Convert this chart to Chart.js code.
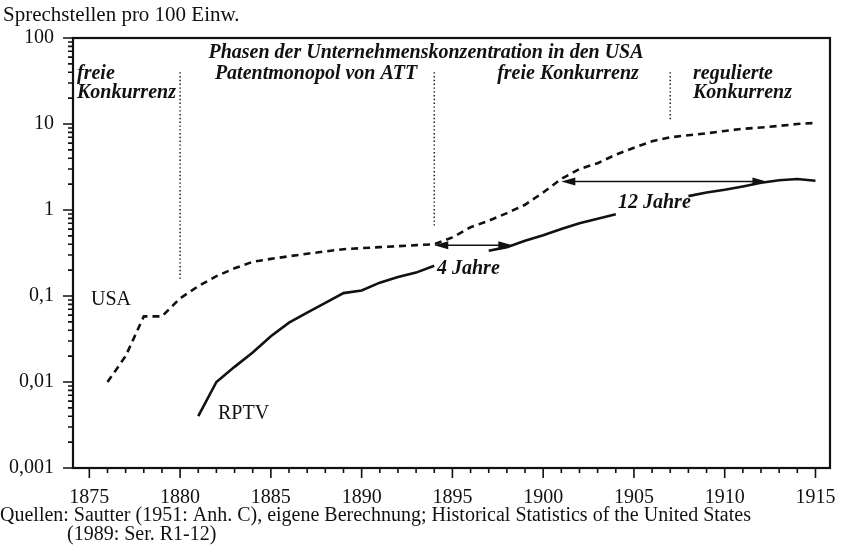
<!DOCTYPE html>
<html>
<head>
<meta charset="utf-8">
<script src="https://cdn.jsdelivr.net/npm/chart.js@4.4.1/dist/chart.umd.min.js"></script>
<style>
  html, body { margin: 0; padding: 0; background: #fff; }
  #wrap { position: relative; width: 846px; height: 552px; }
</style>
</head>
<body>
<div id="wrap"><canvas id="phoneChart" width="846" height="552"></canvas></div>
<script>
// Sprechstellen pro 100 Einwohner, 1876-1915
const years = [1876, 1877, 1878, 1879, 1880, 1881, 1882, 1883, 1884, 1885,
               1886, 1887, 1888, 1889, 1890, 1891, 1892, 1893, 1894, 1895,
               1896, 1897, 1898, 1899, 1900, 1901, 1902, 1903, 1904, 1905,
               1906, 1907, 1908, 1909, 1910, 1911, 1912, 1913, 1914, 1915];
const usa = [0.01, 0.02, 0.058, 0.058, 0.094, 0.13, 0.17, 0.21, 0.25, 0.27,
             0.29, 0.31, 0.33, 0.35, 0.36, 0.37, 0.38, 0.39, 0.40, 0.48,
             0.63, 0.75, 0.92, 1.15, 1.6, 2.3, 3.0, 3.5, 4.4, 5.3,
             6.3, 7.0, 7.4, 7.8, 8.3, 8.8, 9.1, 9.5, 10.0, 10.3];
const rptv = [null, null, null, null, null, 0.004, 0.01, 0.015, 0.022, 0.034,
              0.049, 0.064, 0.083, 0.108, 0.116, 0.143, 0.166, 0.187, 0.225, 0.26,
              0.30, 0.335, 0.37, 0.44, 0.51, 0.6, 0.7, 0.79, 0.89, 1.0,
              1.15, 1.3, 1.45, 1.6, 1.72, 1.88, 2.07, 2.22, 2.29, 2.19];
const xTicks = [1875, 1880, 1885, 1890, 1895, 1900, 1905, 1910, 1915];
const yTicks = [0.001, 0.01, 0.1, 1, 10, 100];
const yTickLabels = ['0,001', '0,01', '0,1', '1', '10', '100'];

// phase borders (year, bottom value) and the two lag arrows
const phaseLines = [[1880, 0.15], [1894, 0.65], [1907, 11]];
const phaseTop = 40;
const lagArrows = [
  { from: 1894, to: 1898.3, at: 0.39 },
  { from: 1901.0, to: 1912.3, at: 2.14 }
];
// RPTV line is broken where the labels sit
const rptvGaps = [[1894, 1897], [1904, 1908]];

const serif = "'Liberation Serif', 'Times New Roman', serif";
const notes = [
  { t: 'Phasen der Unternehmenskonzentration in den USA', x: 426, y: 58, a: 'center', it: true },
  { t: 'freie', x: 77, y: 79, a: 'left', it: true },
  { t: 'Konkurrenz', x: 77, y: 98, a: 'left', it: true },
  { t: 'Patentmonopol von ATT', x: 316, y: 79, a: 'center', it: true },
  { t: 'freie Konkurrenz', x: 568, y: 79, a: 'center', it: true },
  { t: 'regulierte', x: 693, y: 79, a: 'left', it: true },
  { t: 'Konkurrenz', x: 693, y: 98, a: 'left', it: true },
  { t: '4 Jahre', x: 437, y: 274, a: 'left', it: true },
  { t: '12 Jahre', x: 618, y: 208, a: 'left', it: true },
  { t: 'USA', x: 91, y: 305, a: 'left', size: 20 },
  { t: 'RPTV', x: 218, y: 419, a: 'left', size: 20 },
  { t: 'Sprechstellen pro 100 Einw.', x: 3, y: 21, a: 'left', size: 21 },
  { t: 'Quellen: Sautter (1951: Anh. C), eigene Berechnung; Historical Statistics of the United States', x: 0, y: 521, a: 'left', size: 20 },
  { t: '(1989: Ser. R1-12)', x: 67, y: 540, a: 'left', size: 20 }
];

const decor = {
  id: 'decor',
  afterDraw(chart) {
    const { ctx, chartArea: ca, scales: { x, y } } = chart;
    ctx.save();
    ctx.strokeStyle = '#111';
    ctx.fillStyle = '#111';

    // frame
    ctx.lineWidth = 2.2;
    ctx.strokeRect(ca.left, ca.top, ca.right - ca.left, ca.bottom - ca.top);

    // y ticks, major and minor
    ctx.lineWidth = 1.6;
    ctx.beginPath();
    yTicks.forEach((v, i) => {
      const py = y.getPixelForValue(v);
      ctx.moveTo(ca.left - 10, py); ctx.lineTo(ca.left, py);
      if (i < yTicks.length - 1) {
        for (let k = 2; k <= 9; k++) {
          const pm = y.getPixelForValue(v * k);
          ctx.moveTo(ca.left - 5, pm); ctx.lineTo(ca.left, pm);
        }
      }
    });
    // x ticks
    for (let yr = 1875; yr <= 1915; yr++) {
      const px = x.getPixelForValue(yr);
      ctx.moveTo(px, ca.bottom);
      ctx.lineTo(px, ca.bottom + (yr % 5 === 0 ? 10 : 5));
    }
    ctx.stroke();

    // dotted phase borders
    ctx.lineWidth = 1.4;
    ctx.setLineDash([1.4, 2.4]);
    phaseLines.forEach(([yr, low]) => {
      const px = x.getPixelForValue(yr);
      ctx.beginPath();
      ctx.moveTo(px, y.getPixelForValue(phaseTop));
      ctx.lineTo(px, y.getPixelForValue(low));
      ctx.stroke();
    });
    ctx.setLineDash([]);

    // lag arrows
    ctx.lineWidth = 1.5;
    lagArrows.forEach(ar => {
      const x1 = x.getPixelForValue(ar.from), x2 = x.getPixelForValue(ar.to);
      const py = y.getPixelForValue(ar.at);
      ctx.beginPath();
      ctx.moveTo(x1 + 8, py); ctx.lineTo(x2 - 8, py);
      ctx.stroke();
      [[x1, 1], [x2, -1]].forEach(([hx, d]) => {
        ctx.beginPath();
        ctx.moveTo(hx, py);
        ctx.lineTo(hx + d * 14, py - 4);
        ctx.lineTo(hx + d * 14, py + 4);
        ctx.closePath();
        ctx.fill();
      });
    });

    // texts
    ctx.textBaseline = 'alphabetic';
    notes.forEach(n => {
      ctx.font = n.it ? 'italic bold 20px ' + serif : n.size + 'px ' + serif;
      ctx.textAlign = n.a;
      ctx.fillText(n.t, n.x, n.y);
    });
    ctx.restore();
  }
};

new Chart(document.getElementById('phoneChart'), {
  type: 'line',
  data: {
    datasets: [
      {
        label: 'USA',
        data: years.map((yr, i) => ({ x: yr, y: usa[i] })),
        borderColor: '#111',
        borderWidth: 2.6,
        borderDash: [7, 5],
        pointRadius: 0,
        tension: 0
      },
      {
        label: 'RPTV',
        data: years.map((yr, i) => ({ x: yr, y: rptv[i] })),
        borderColor: '#111',
        borderWidth: 2.6,
        pointRadius: 0,
        tension: 0,
        segment: {
          borderColor: c => rptvGaps.some(g => c.p0.parsed.x >= g[0] && c.p1.parsed.x <= g[1]) ? 'rgba(0,0,0,0)' : '#111'
        }
      }
    ]
  },
  plugins: [decor],
  options: {
    responsive: false,
    animation: false,
    layout: { padding: { left: 0, right: 16, top: 38, bottom: 0 } },
    plugins: { legend: { display: false }, tooltip: { enabled: false } },
    scales: {
      x: {
        type: 'linear',
        min: 1874.1,
        max: 1915.8,
        grid: { display: false },
        border: { display: false },
        afterBuildTicks: s => { s.ticks = xTicks.map(v => ({ value: v })); },
        afterFit: s => { s.height = 84; },
        ticks: {
          padding: 10,
          color: '#111',
          font: { family: serif, size: 20 },
          maxRotation: 0,
          autoSkip: false,
          callback: v => String(v)
        }
      },
      y: {
        type: 'logarithmic',
        min: 0.001,
        max: 100,
        grid: { display: false },
        border: { display: false },
        afterBuildTicks: s => { s.ticks = yTicks.map(v => ({ value: v })); },
        afterFit: s => { s.width = 73; },
        ticks: {
          padding: 11,
          color: '#111',
          font: { family: serif, size: 20 },
          autoSkip: false,
          callback: v => yTickLabels[yTicks.indexOf(v)]
        }
      }
    }
  }
});
</script>
</body>
</html>
